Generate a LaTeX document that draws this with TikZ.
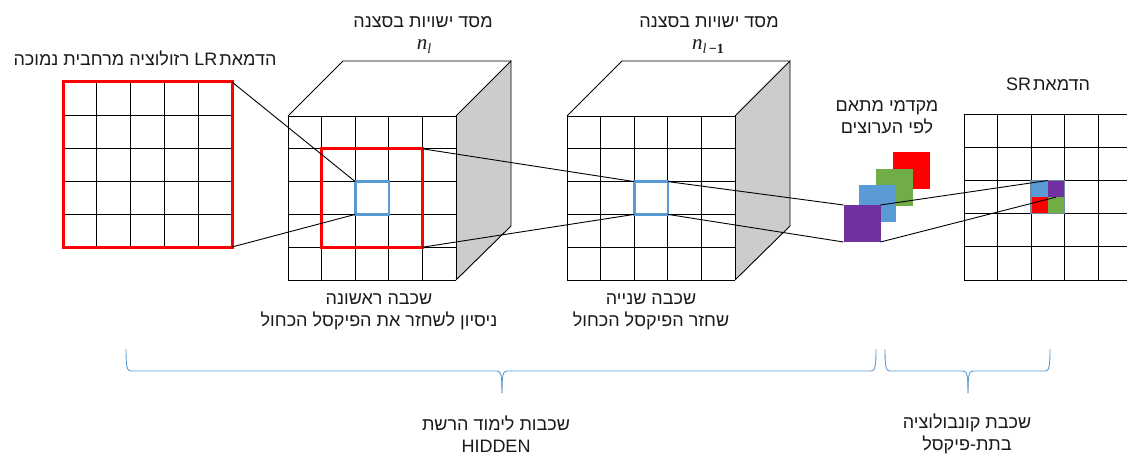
\documentclass[tikz,border=0pt]{standalone}
\usepackage{fontspec}
\setmainfont{Liberation Sans}
\newfontfamily\heb[Script=Hebrew]{Liberation Sans}
\newfontfamily\nlfont{Liberation Serif}
\TeXXeTstate=1
\definecolor{mred}{HTML}{FF0000}
\definecolor{mblue}{HTML}{5B9BD5}
\definecolor{mgreen}{HTML}{70AD47}
\definecolor{mpurple}{HTML}{7030A0}
\definecolor{mgray}{HTML}{CCCCCC}
\definecolor{txt}{HTML}{1A1A1A}
\newcommand\cellgrid[6]{%
  \foreach \i in {0,...,#5} \draw[gridline] ({#1+\i*#3},#2) -- ({#1+\i*#3},{#2+#6*#4});
  \foreach \j in {0,...,#6} \draw[gridline] (#1,{#2+\j*#4}) -- ({#1+#5*#3},{#2+\j*#4});
}
\newcommand\mycube[2]{% front top-left x,y
  \fill[mgray] ({#1+168},#2) -- ({#1+223},{#2-55}) -- ({#1+223},{#2+110}) -- ({#1+168},{#2+164}) -- cycle;
  \draw[edge] ({#1+168},#2) -- ({#1+223},{#2-55}) -- ({#1+223},{#2+110}) -- ({#1+168},{#2+164});
  \draw[edge] (#1,#2) -- ({#1+55},{#2-55}) -- ({#1+223},{#2-55});
  \cellgrid{#1}{#2}{33.6}{32.8}{5}{5}
}
\newcommand\nsub[1]{{\nlfont\fontsize{21}{22}\selectfont\itshape n}\raisebox{-4pt}{\nlfont\fontsize{14}{15}\selectfont #1}}
\tikzset{
  x=1pt, y=-1pt,
  gridline/.style={draw=black, line width=0.9pt},
  edge/.style={draw=black, line width=0.9pt},
  conn/.style={draw=black, line width=0.9pt},
  box/.style={rectangle, inner sep=0pt, outer sep=0pt},
  redframe/.style={box, draw=mred, line width=3pt},
  blueframe/.style={box, draw=mblue, line width=2.6pt},
  sq/.style={box, minimum size=37pt},
  tiny/.style={box, minimum width=16.75pt, minimum height=16.6pt},
  lbl/.style={font=\heb\fontsize{18}{22}\selectfont, text=txt, align=center, inner sep=0pt},
  mathlbl/.style={text=txt, inner sep=0pt},
  brace/.style={draw=mblue, line width=0.9pt},
}
\begin{document}
\begin{tikzpicture}
\useasboundingbox (0,0) rectangle (1127,457);
\clip (0,0) rectangle (1127,457);
\fill[white] (0,0) rectangle (1127,457);

% LR image
\cellgrid{63}{82}{33.8}{33}{5}{5}
\node[redframe, minimum width=169pt, minimum height=165pt] (lr) at (147.5,164.5) {};
\node[lbl] (lrlab) at (145,58) {\beginR הדמאת\hspace{2pt}\beginL LR\endL{} רזולוציה מרחבית נמוכה\endR};

% cube 1
\mycube{288}{116}
\node[redframe, minimum width=100.8pt, minimum height=98.4pt] (r1) at (372,198) {};
\node[blueframe, minimum width=33.6pt, minimum height=32.8pt] (b1) at (372,198) {};
\node[lbl] (t1) at (423,22) {\beginR מסד ישויות בסצנה\endR};
\node[mathlbl] (n1) at (424,47) {\nsub{\itshape l}};
\node[lbl] (L1) at (379,312) {\beginR שכבה ראשונה\endR\\\beginR ניסיון לשחזר את הפיקסל הכחול\endR};

% cube 2
\mycube{567}{116}
\node[blueframe, minimum width=33.6pt, minimum height=32.8pt] (b2) at (651,198) {};
\node[lbl] (t2) at (709,22) {\beginR מסד ישויות בסצנה\endR};
\node[mathlbl] (n2) at (708,47) {\nsub{{\itshape l}\textbf{\,\textminus1}}};
\node[lbl] (L2) at (651,312) {\beginR שכבה שנייה\endR\\\beginR שחזר הפיקסל הכחול\endR};

% channel coefficients
\node[sq, fill=mred] (cr) at (911.5,171) {};
\node[sq, fill=mgreen] (cg) at (894,187.5) {};
\node[sq, fill=mblue] (cb) at (877,204) {};
\node[sq, fill=mpurple] (cp) at (862,223.5) {};
\node[lbl] (coef) at (887,117.5) {\beginR מקדמי מתאם\endR\\\beginR לפי הערוצים\endR};

% SR image
\cellgrid{964}{114}{33.5}{33.2}{5}{5}
\node[tiny, fill=mblue] (sb) at (1039.4,188.8) {};
\node[tiny, fill=mpurple] (sp) at (1056.1,188.8) {};
\node[tiny, fill=mred] (sr) at (1039.4,205.4) {};
\node[tiny, fill=mgreen] (sg) at (1056.1,205.4) {};
\draw[draw=gray!60!mblue, line width=1.2pt] (sb.north west) rectangle (sg.south east);
\node[lbl] (srlab) at (1048,84) {\beginR הדמאת\hspace{2pt}\beginL SR\endL\endR};

% connectors
\draw[conn] (lr.north east) -- (b1.north west);
\draw[conn] (lr.south east) -- (b1.south west);
\draw[conn] (r1.north east) -- (b2.north west);
\draw[conn] (r1.south east) -- (b2.south west);
\draw[conn] (b2.north east) -- (cp.north west);
\draw[conn] (b2.south east) -- (cp.south west);
\draw[conn] (cp.north east) -- (sp.north west);
\draw[conn] (cp.south east) -- (sp.south);

% braces
\draw[brace] (126,349) .. controls (126,367) and (127,371) .. (131,371) -- (497,371)
  .. controls (501,371) and (502,375) .. (502,393);
\draw[brace] (502,393) .. controls (502,375) and (503,371) .. (507,371) -- (871,371)
  .. controls (875,371) and (876,367) .. (876,349);
\draw[brace] (885,349) .. controls (885,367) and (886,371) .. (890,371) -- (963,371)
  .. controls (967,371) and (968,375) .. (968,393);
\draw[brace] (968,393) .. controls (968,375) and (969,371) .. (973,371) -- (1045,371)
  .. controls (1049,371) and (1050,367) .. (1050,349);
\node[lbl] (B1) at (496,434) {\beginR שכבות לימוד הרשת\endR\\HIDDEN};
\node[lbl] (B2) at (967,434) {\beginR שכבת קונבולוציה\endR\\\beginR בתת-פיקסל\endR};
\end{tikzpicture}
\end{document}
